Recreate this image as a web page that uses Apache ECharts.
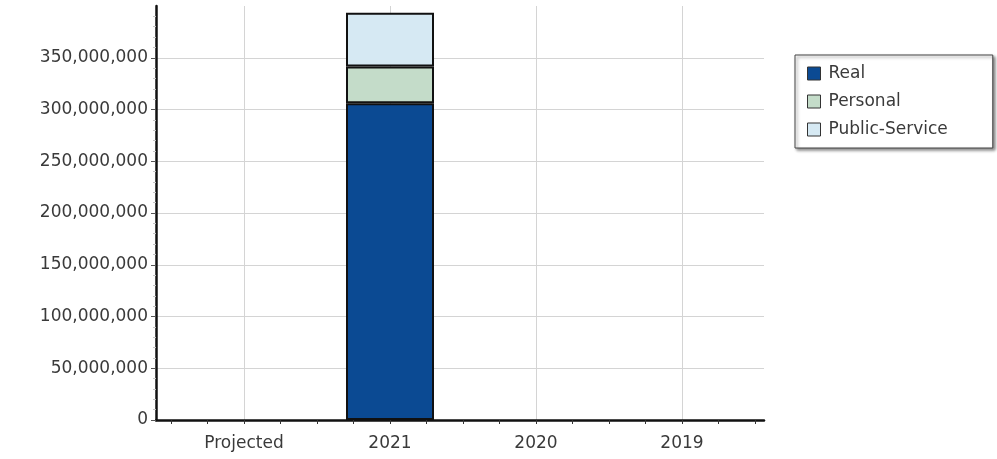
<!DOCTYPE html>
<html>
<head>
<meta charset="utf-8">
<script src="https://cdn.jsdelivr.net/npm/echarts@6/dist/echarts.min.js"></script>
<style>
  html, body { margin: 0; padding: 0; background: #fff; }
  #chart { width: 997px; height: 459px; }
</style>
</head>
<body>
<div id="chart"></div>
<script>
// ---- Data ----
const categories = ['Projected', '2021', '2020', '2019'];
const seriesNames = ['Real', 'Personal', 'Public-Service'];
const realValues = [null, 306000000, null, null];
const personalValues = [null, 35500000, null, null];
const publicServiceValues = [null, 52000000, null, null];
const yTickValues = [0, 50000000, 100000000, 150000000, 200000000, 250000000, 300000000, 350000000];
const yMax = 400000000;

// ---- Styles ----
const colors = ['#0b4a93', '#c4dcc9', '#d6e9f3'];
const fontFamily = '"DejaVu Sans", "Noto Sans", sans-serif';
const textColor = '#3a3a3a';
const gridColor = '#d4d4d4';

function fmt(v) {
  return Math.round(v).toString().replace(/\B(?=(\d{3})+(?!\d))/g, ',');
}

const chart = echarts.init(document.getElementById('chart'), null, { renderer: 'canvas' });

const valuesBySeries = [realValues, personalValues, publicServiceValues];

const option = {
  backgroundColor: '#ffffff',
  animation: false,
  textStyle: { fontFamily: fontFamily },
  grid: [
    { left: 156, right: 233, top: 6, bottom: 39, containLabel: false },
    { left: 171, right: 242, top: 6, bottom: 39, containLabel: false }
  ],
  legend: {
    orient: 'vertical',
    left: 795,
    top: 55,
    data: seriesNames,
    itemWidth: 13,
    itemHeight: 13,
    itemGap: 11,
    icon: 'rect',
    padding: [10, 45, 10, 12],
    backgroundColor: '#ffffff',
    borderColor: '#444',
    borderWidth: 1,
    borderRadius: 0,
    shadowColor: 'rgba(0,0,0,0.45)',
    shadowBlur: 3,
    shadowOffsetX: 2,
    shadowOffsetY: 2,
    itemStyle: { borderColor: '#333', borderWidth: 1 },
    textStyle: { fontFamily: fontFamily, fontSize: 17, color: textColor, padding: [0, 0, 0, 3] }
  },
  xAxis: [
    {
      gridIndex: 0,
      type: 'value',
      position: 'bottom',
      min: 0,
      max: 1,
      axisLine: { show: true, lineStyle: { color: '#111', width: 2.5 } },
      axisTick: { show: false },
      axisLabel: { show: false },
      splitLine: { show: false }
    },
    {
      gridIndex: 1,
      type: 'category',
      position: 'bottom',
      data: categories,
      boundaryGap: true,
      axisLine: { show: false },
      axisTick: { show: false },
      splitLine: { show: false },
      axisLabel: { show: true, color: textColor, fontSize: 17, fontFamily: fontFamily, margin: 15 }
    },
    {
      gridIndex: 1,
      type: 'value',
      position: 'bottom',
      min: 0,
      max: 4,
      interval: 0.5,
      axisLine: { show: false },
      axisLabel: { show: false },
      axisTick: { show: true, length: 4, lineStyle: { color: '#333', width: 1 } },
      minorTick: { show: true, splitNumber: 2, length: 4, lineStyle: { color: '#333', width: 1 } },
      splitLine: { show: true, lineStyle: { color: ['transparent', gridColor], width: 1 } },
      minorSplitLine: { show: false }
    }
  ],
  yAxis: [
    {
      gridIndex: 0,
      type: 'value',
      min: 0,
      max: yMax,
      interval: 50000000,
      axisLine: { show: true, lineStyle: { color: '#111', width: 2.5 } },
      axisTick: { show: true, length: 5, customValues: yTickValues, lineStyle: { color: '#555', width: 1 } },
      minorTick: { show: true, splitNumber: 5, length: 3, lineStyle: { color: '#c4c4c4', width: 1 } },
      axisLabel: {
        show: true,
        customValues: yTickValues,
        color: textColor,
        fontSize: 17,
        fontFamily: fontFamily,
        margin: 8,
        formatter: fmt
      },
      splitLine: {
        show: true,
        lineStyle: {
          color: [gridColor, gridColor, gridColor, gridColor, gridColor, gridColor, gridColor, gridColor, 'transparent'],
          width: 1
        }
      }
    },
    {
      gridIndex: 1,
      type: 'value',
      min: 0,
      max: yMax,
      show: false,
      splitLine: { show: false }
    }
  ],
  series: seriesNames.map((name, i) => ({
    name: name,
    type: 'bar',
    stack: 'total',
    xAxisIndex: 1,
    yAxisIndex: 1,
    barWidth: 88,
    data: valuesBySeries[i],
    itemStyle: { color: colors[i], borderColor: '#111', borderWidth: 2 },
    emphasis: { disabled: true }
  }))
};

chart.setOption(option);
</script>
</body>
</html>
